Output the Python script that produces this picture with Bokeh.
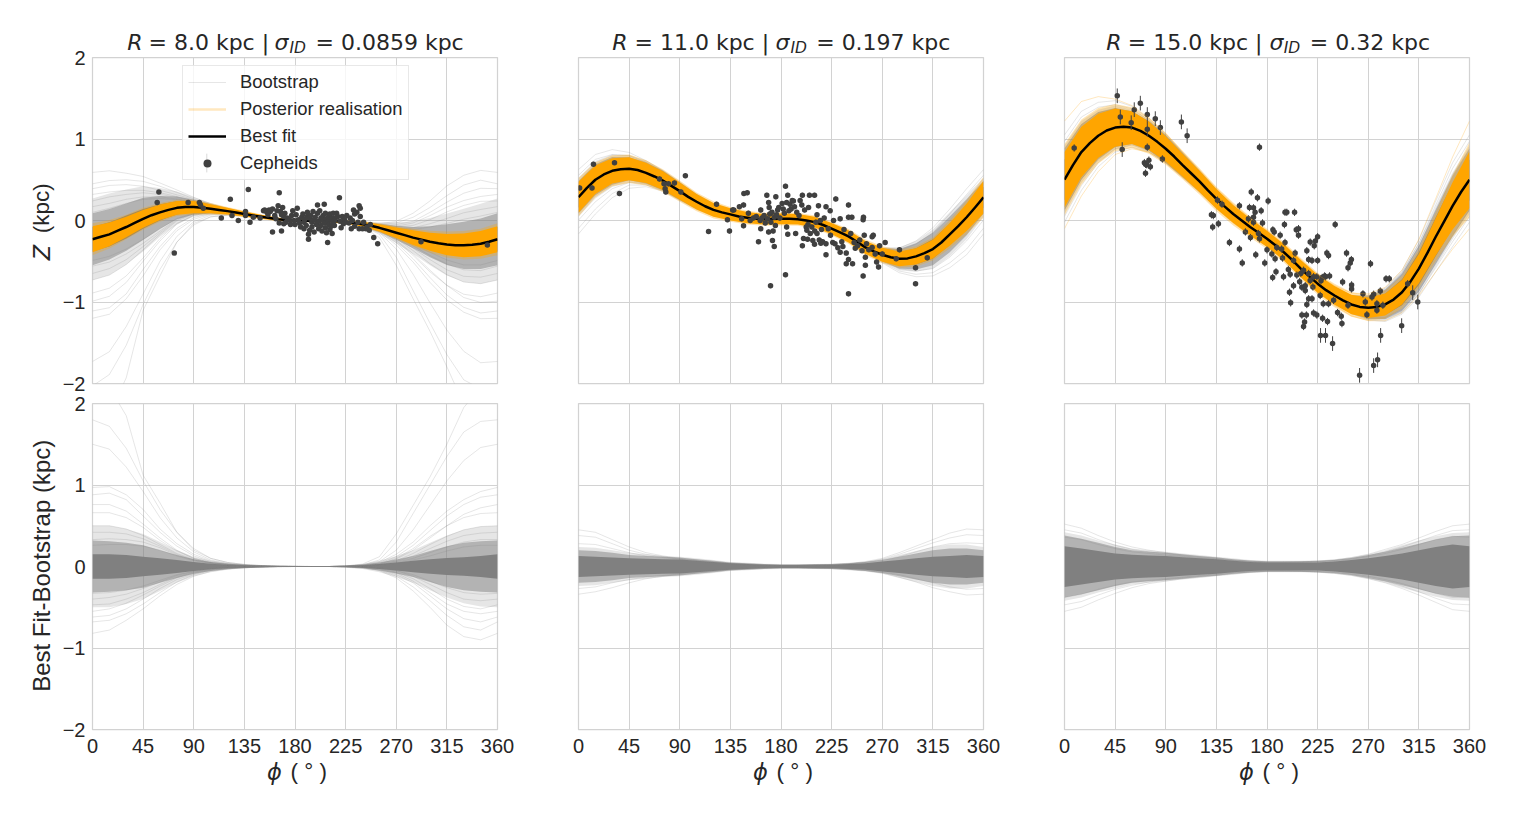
from math import pi

import numpy as np
from bokeh.embed import file_html
from bokeh.layouts import column, row
from bokeh.models import FixedTicker, Label, Legend, LegendItem, Range1d
from bokeh.plotting import figure
from bokeh.resources import INLINE

phi_fine = [0, 7.5, 15, 22.5, 30, 37.5, 45, 52.5, 60, 67.5, 75, 82.5, 90, 97.5, 105, 112.5, 120, 127.5, 135, 142.5, 150, 157.5, 165, 172.5, 180, 187.5, 195, 202.5, 210, 217.5, 225, 232.5, 240, 247.5, 255, 262.5, 270, 277.5, 285, 292.5, 300, 307.5, 315, 322.5, 330, 337.5, 345, 352.5, 360]
phi = [0, 15, 30, 45, 60, 75, 90, 105, 120, 135, 150, 165, 180, 195, 210, 225, 240, 255, 270, 285, 300, 315, 330, 345, 360]
phi_ticks = [0, 45, 90, 135, 180, 225, 270, 315, 360]
z_ticks = [-2, -1, 0, 1, 2]

# best fit
best_8 = [-.23, -.20, -.17, -.125, -.08, -.03, .02, .065, .10, .13, .155, .165, .165, .157, .145, .13, .115, .098, .08, .062, .045, .03, .015, .005, 0, -.003, -.005, -.005, -.005, -.01, -.02, -.03, -.045, -.065, -.09, -.12, -.15, -.18, -.21, -.235, -.26, -.28, -.295, -.303, -.305, -.298, -.285, -.26, -.23]
best_11 = [.285, .40, .50, .565, .61, .63, .635, .62, .585, .54, .49, .425, .36, .29, .23, .175, .13, .10, .075, .05, .035, .022, .015, .017, .02, .02, .015, 0, -.02, -.055, -.10, -.145, -.195, -.26, -.33, -.38, -.42, -.45, -.47, -.465, -.44, -.40, -.35, -.27, -.17, -.07, .04, .16, .285]
best_15 = [.50, .68, .84, .95, 1.04, 1.105, 1.14, 1.15, 1.14, 1.10, 1.04, .965, .88, .785, .68, .58, .48, .37, .265, .17, .08, 0, -.08, -.15, -.225, -.305, -.39, -.485, -.59, -.685, -.775, -.855, -.92, -.98, -1.03, -1.06, -1.07, -1.06, -1.03, -.97, -.88, -.75, -.59, -.40, -.20, -.01, .18, .35, .50]

# half widths of the orange band and its paler fringe
orange_8 = [.16, .145, .125, .11, .095, .085, .075, .055, .04, .03, .025, .018, .014, .014, .016, .02, .03, .045, .065, .09, .11, .13, .145, .155, .16]
fringe_8 = [.195, .175, .15, .135, .115, .1, .09, .07, .05, .04, .03, .023, .018, .018, .02, .026, .038, .055, .08, .11, .135, .16, .175, .185, .195]
orange_11 = [.19, .175, .155, .14, .125, .115, .105, .095, .085, .075, .07, .065, .065, .065, .065, .07, .075, .08, .085, .09, .1, .115, .14, .17, .2]
fringe_11 = [.235, .215, .19, .175, .155, .14, .13, .115, .105, .09, .085, .08, .08, .08, .08, .085, .09, .1, .105, .11, .125, .14, .175, .21, .25]
orange_15 = [.34, .31, .27, .235, .2, .175, .155, .14, .13, .12, .11, .105, .1, .1, .105, .11, .115, .12, .125, .135, .15, .18, .23, .29, .35]
fringe_15 = [.44, .4, .34, .29, .25, .22, .195, .175, .16, .15, .14, .13, .125, .125, .13, .135, .145, .15, .16, .175, .2, .235, .3, .38, .46]

# half widths of the solid, half dense and sparse parts of the bootstrap bundle
core_8 = [.15, .15, .14, .12, .10, .08, .055, .035, .022, .014, .008, .004, .003, .003, .004, .007, .016, .03, .05, .07, .09, .105, .115, .13, .15]
mid_8 = [.32, .31, .29, .26, .20, .14, .09, .055, .035, .02, .012, .006, .004, .004, .006, .012, .025, .05, .085, .13, .19, .25, .29, .31, .32]
outer_8 = [.5, .5, .46, .4, .3, .2, .12, .07, .04, .022, .012, .006, .004, .004, .007, .015, .03, .07, .13, .2, .29, .38, .45, .49, .5]
core_11 = [.13, .12, .11, .10, .095, .09, .085, .07, .055, .04, .03, .022, .018, .018, .02, .022, .03, .04, .06, .08, .10, .12, .13, .14, .13]
mid_11 = [.2, .19, .17, .14, .13, .12, .11, .09, .07, .05, .04, .03, .025, .025, .028, .03, .04, .055, .08, .12, .16, .2, .22, .22, .2]
outer_11 = [.24, .23, .2, .17, .15, .13, .12, .1, .08, .055, .045, .035, .03, .03, .03, .035, .045, .06, .09, .14, .19, .24, .27, .27, .24]
core_15 = [.25, .22, .19, .16, .145, .135, .13, .115, .10, .09, .07, .055, .05, .05, .05, .05, .06, .08, .10, .13, .16, .2, .24, .27, .25]
mid_15 = [.38, .34, .29, .24, .2, .18, .17, .15, .13, .115, .09, .075, .065, .065, .065, .07, .08, .105, .14, .18, .23, .28, .33, .37, .38]
outer_15 = [.42, .38, .32, .27, .22, .2, .18, .16, .14, .12, .1, .08, .07, .07, .07, .075, .09, .115, .15, .2, .26, .32, .37, .41, .42]

# the bootstrap curves that stand out of the bundle, as best fit minus bootstrap
resid_8 = [
    [2.25, 2.2, 1.85, 1.12, .78, .42, .2, .1, .05, .025, .012, .005, .002, 0, 0, .005, .03, .12, .4, .75, 1.1, 1.5, 1.95, 2.2, 2.25],
    [1.8, 1.72, 1.45, 1.05, .7, .42, .22, .1, .05, .025, .012, .005, .002, 0, 0, .004, .02, .08, .3, .65, 1.0, 1.35, 1.65, 1.78, 1.8],
    [1.5, 1.44, 1.22, .92, .6, .35, .18, .08, .04, .02, .01, .004, .002, 0, 0, .004, .02, .06, .2, .45, .75, 1.05, 1.3, 1.46, 1.5],
    [.97, .98, .88, .7, .46, .28, .15, .07, .035, .018, .008, .003, .001, 0, 0, .003, .014, .05, .15, .3, .5, .68, .82, .92, .97],
    [.88, .9, .82, .62, .42, .25, .13, .06, .03, .015, .007, .003, .001, 0, 0, .002, .01, .04, .12, .26, .44, .62, .76, .85, .88],
    [.76, .76, .68, .52, .35, .2, .1, .05, .025, .012, .005, .002, .001, 0, 0, .002, .01, .03, .09, .2, .35, .5, .64, .72, .76],
    [.66, .66, .6, .48, .32, .19, .1, .05, .025, .01, .005, .002, .001, 0, 0, .002, .008, .03, .1, .22, .37, .5, .6, .65, .66],
    [.5, .5, .46, .38, .27, .16, .09, .045, .02, .01, .004, .002, 0, 0, 0, .002, .008, .025, .07, .16, .27, .37, .45, .49, .5],
    [.42, .42, .4, .34, .25, .15, .08, .04, .02, .008, .004, .001, 0, 0, 0, .001, .006, .02, .06, .13, .22, .31, .38, .41, .42],
    [.33, .34, .33, .3, .23, .14, .08, .04, .018, .008, .003, .001, 0, 0, 0, .001, .005, .018, .05, .1, .17, .24, .3, .33, .33],
    [.26, .27, .27, .25, .2, .13, .07, .035, .015, .007, .003, .001, 0, 0, 0, .001, .004, .015, .04, .08, .13, .19, .24, .26, .26],
    [-.82, -.78, -.66, -.52, -.36, -.22, -.12, -.06, -.03, -.015, -.006, -.002, 0, 0, 0, -.002, -.012, -.05, -.14, -.3, -.5, -.72, -.86, -.9, -.82],
    [-.68, -.66, -.58, -.46, -.32, -.19, -.1, -.05, -.025, -.012, -.005, -.002, 0, 0, 0, -.002, -.01, -.04, -.12, -.25, -.42, -.6, -.74, -.78, -.68],
    [-.62, -.6, -.52, -.4, -.27, -.16, -.09, -.045, -.02, -.01, -.004, -.001, 0, 0, 0, -.001, -.008, -.03, -.1, -.2, -.36, -.52, -.64, -.68, -.62],
    [-.55, -.52, -.45, -.35, -.24, -.14, -.08, -.04, -.02, -.008, -.003, -.001, 0, 0, 0, -.001, -.006, -.025, -.08, -.18, -.32, -.46, -.55, -.58, -.55],
    [-.47, -.46, -.4, -.32, -.22, -.13, -.07, -.035, -.015, -.007, -.003, -.001, 0, 0, 0, -.001, -.005, -.02, -.07, -.15, -.27, -.4, -.49, -.52, -.47],
    [-.4, -.38, -.34, -.27, -.19, -.11, -.06, -.03, -.012, -.006, -.002, -.001, 0, 0, 0, -.001, -.004, -.018, -.05, -.12, -.22, -.32, -.4, -.42, -.4],
    [-.33, -.32, -.29, -.24, -.17, -.1, -.06, -.03, -.012, -.005, -.002, 0, 0, 0, 0, -.001, -.004, -.015, -.05, -.1, -.18, -.26, -.32, -.34, -.33],
]
resid_11 = [
    [.45, .42, .33, .24, .17, .13, .1, .08, .06, .04, .03, .02, .015, .015, .02, .025, .035, .06, .1, .17, .25, .33, .41, .46, .45],
    [.38, .36, .28, .2, .15, .12, .09, .07, .05, .035, .025, .02, .015, .015, .015, .02, .03, .05, .09, .15, .22, .29, .35, .39, .38],
    [.28, .27, .22, .17, .13, .11, .09, .07, .05, .03, .02, .015, .01, .01, .015, .02, .03, .05, .08, .12, .18, .24, .28, .29, .28],
    [-.34, -.31, -.26, -.2, -.15, -.12, -.1, -.08, -.06, -.04, -.03, -.02, -.015, -.015, -.02, -.025, -.035, -.05, -.08, -.13, -.19, -.26, -.31, -.35, -.34],
    [-.27, -.25, -.2, -.16, -.13, -.11, -.09, -.07, -.05, -.03, -.02, -.015, -.01, -.01, -.015, -.02, -.03, -.045, -.07, -.1, -.15, -.2, -.25, -.28, -.27],
]
resid_15 = [
    [.52, .47, .38, .3, .24, .2, .17, .14, .12, .1, .08, .065, .055, .055, .06, .065, .08, .11, .15, .21, .27, .35, .43, .5, .52],
    [.45, .41, .33, .26, .21, .18, .16, .13, .11, .095, .075, .06, .05, .05, .055, .06, .075, .1, .13, .18, .24, .31, .38, .44, .45],
    [.36, .33, .27, .22, .18, .16, .14, .12, .1, .085, .07, .055, .05, .05, .05, .055, .07, .09, .12, .16, .21, .27, .33, .37, .36],
    [-.55, -.5, -.41, -.33, -.26, -.21, -.18, -.15, -.13, -.11, -.09, -.07, -.06, -.06, -.06, -.07, -.085, -.11, -.15, -.2, -.27, -.35, -.44, -.53, -.55],
    [-.47, -.43, -.35, -.28, -.23, -.19, -.16, -.14, -.12, -.1, -.08, -.065, -.055, -.055, -.06, -.065, -.08, -.1, -.14, -.18, -.24, -.31, -.39, -.46, -.47],
    [-.38, -.34, -.28, -.23, -.19, -.17, -.15, -.13, -.11, -.09, -.07, -.06, -.05, -.05, -.055, -.06, -.07, -.09, -.12, -.16, -.21, -.27, -.33, -.38, -.38],
]

# posterior realisations that leave the band at R=15, offset from best fit
posterior_15 = [
    [.72, .62, .48, .35, .27, .22, .19, .16, .14, .13, .12, .11, .1, .1, .11, .11, .12, .14, .17, .21, .27, .36, .47, .6, .72],
    [-.6, -.54, -.44, -.33, -.26, -.2, -.17, -.15, -.13, -.12, -.11, -.1, -.09, -.09, -.1, -.1, -.12, -.14, -.16, -.2, -.25, -.33, -.43, -.53, -.6],
]

cepheids_8 = [(59, .35), (57.5, .22), (72.7, -.40), (85, .22), (95, .22), (96, .19), (98.5, .15), (114.5, .03), (122.5, .26), (124, .06), (129.6, 0), (136, .11), (136, .06), (138.5, .38), (140, -.02), (143, .04), (149, .03), (152, .12), (153, .13), (155, .10), (156, .07), (157, .13), (158, .11), (160, .14), (160, -.14), (162, .06), (163, .02), (164, .12), (165, .18), (166, .34), (166, -.03), (167, .11), (168, .07), (168, -.13), (169, .16), (170, .05), (170, -.04), (171, .09), (172, -.02), (173, .03), (175, .01), (176, -.05), (177, .06), (178, .12), (179, 0), (180, -.05), (181, .07), (182, .15), (183, .01), (184, -.03), (185, -.08), (186, .04), (187, .08), (188, -.02), (188, -.10), (189, .02), (190, -.06), (191, .05), (191, .10), (192, -.17), (192, -.23), (193, -.12), (193, .03), (194, .06), (195, -.02), (195, -.08), (196, .11), (197, -.14), (197, .01), (198, .04), (199, -.05), (200, .09), (200, .19), (201, -.01), (201, -.10), (202, .12), (203, .03), (203, -.06), (204, -.13), (205, .06), (205, 0), (206, -.03), (206, .20), (207, -.09), (207, .09), (208, .02), (208, -.15), (209, -.02), (209, -.27), (210, .05), (210, -.05), (211, -.11), (211, .08), (212, .01), (212, -.07), (213, .03), (213, -.16), (214, .09), (214, -.03), (215, 0), (215, -.06), (216, .03), (217, .09), (218, .05), (219.5, .28), (220, -.01), (221, -.09), (222, .05), (223, -.04), (224, .01), (225, -.02), (226, .06), (228, -.03), (229, .03), (230, -.10), (231, 0), (232, .13), (233, .08), (233, -.07), (235, .10), (236, -.02), (237, .18), (237, -.10), (238, .15), (238, .05), (240, -.10), (241, -.02), (243, -.10), (244, -.08), (246, -.12), (247, -.05), (250, -.21), (253.5, -.285), (292, -.26), (351, -.30)]

cepheids_11 = [(1, .40), (13.3, .69), (12, .40), (32, .71), (36.4, .33), (72, .51), (76, .45), (77, .39), (77.6, .35), (80, .45), (85.3, .46), (91, .35), (95, .55), (115.6, -.135), (122.7, .20), (132.4, .01), (134.2, -.13), (137, .13), (138, .13), (143, .17), (146.7, .19), (145, .02), (146.7, -.065), (147, .33), (150, .34), (151, .09), (152.6, 0), (155.5, .03), (160, -.26), (162, .13), (161.5, 0), (162, -.10), (167.4, .31), (169, .22), (169.5, .16), (170.7, -.80), (172.4, -.245), (174, -.32), (169, -.14), (173, -.13), (170, .08), (172, .10), (174, .04), (175.4, .29), (177, .13), (175, -.06), (182, .14), (184, .42), (184, -.665), (185, .22), (186, .31), (187, .12), (185, -.08), (186, -.17), (188, .20), (190, .245), (191, .24), (193, -.16), (197, .245), (199, .31), (198.5, .19), (200, -.22), (199, -.31), (202.4, -.08), (203, -.12), (203.6, -.23), (204.5, .16), (205.3, .31), (207.4, -.08), (208.3, -.245), (209.8, .31), (209.8, -.29), (212, -.16), (213.3, .18), (212, .07), (214, -.24), (215.4, -.28), (215, 0), (218.4, .03), (220, .17), (220, -.285), (220, -.42), (222, -.10), (223.7, .12), (226.7, 0), (228.7, .265), (228, -.285), (230.5, -.335), (232.6, .02), (232.6, -.39), (234, -.26), (240, .19), (240, .04), (238, -.40), (240, -.48), (238, -.53), (243.6, -.53), (240, -.90), (243, .04), (242, -.16), (246, -.34), (253, -.68), (253, .01), (253.3, .04), (254, -.18), (252, -.37), (255, -.45), (255, -.55), (256, -.285), (261, -.20), (262, -.18), (261, -.33), (263.7, -.41), (265, -.51), (266.7, -.57), (267.6, -.31), (270, -.41), (272.6, -.27), (282.4, -.47), (285.3, -.36), (299.6, -.58), (299.6, -.775), (310, -.457),
               (158, .05), (163, .03), (165, .06), (166, -.03), (168, .02), (171, -.02), (176, .07), (178, .16), (179, .03), (181, .21), (183, .09), (189, .14), (192, .17), (194, .10), (196, .06), (201, .13), (204, -.05), (206, -.16), (210, -.13), (211, -.02), (216, -.11), (217, -.26), (224, -.18), (226, -.27), (235, -.32), (236, -.11), (245, -.27), (248, -.31), (250, -.24), (258, -.36)]

# R=15 dots split by the size of their error bar
cepheids_15_far = [(46.9, 1.53), (49.6, 1.27), (62, 1.36), (67.4, 1.44), (51.3, .87), (59.3, 1.20), (73.6, 1.30), (80.7, 1.25), (85.2, 1.14), (73.6, 1.12), (103.9, 1.21), (109, 1.04), (262.3, -1.90), (274.8, -1.78), (278.3, -1.71), (281, -1.41), (299.7, -1.29), (314, -1.0), (238.3, -1.51), (227.6, -1.41), (232, -1.41), (309.5, -.885)]
cepheids_15 = [(8.6, .89), (73.6, .90), (71, .71), (72, .69), (73, .685), (72, .58), (75, .74), (76.3, .66), (87, .755), (173.3, .90), (166, .35), (171.5, .28), (181, .24), (136, .25), (140, .20), (155.5, .18), (164.4, .16), (168, .155), (169.4, .10), (174.8, .12), (130.6, .07), (132.3, .06), (136.8, -.04), (131.7, -.08), (146.6, -.27), (155.5, -.35), (158, -.52), (160.8, -.14), (165.3, -.21), (163.5, .02), (168, .04), (168, -.02), (172.4, -.16), (173.3, -.225), (176, -.03), (170, -.42), (178, -.52), (180, -.36), (185.2, -.115), (186.4, -.14), (184.3, -.41), (185, -.70), (188, -.63), (187.2, -.47), (196, .10), (197.6, .10), (204.5, .10), (195.5, -.05), (191.7, -.18), (196, -.27), (188.7, -.33), (193, -.35), (193.8, -.46), (194.7, -.69), (199, -.60), (200.6, -.66), (200, -.88), (201, -1.01), (203.6, -.80), (206, -.115), (208, -.10), (208, -.18), (205, -.40), (203.6, -.49), (206.5, -.67), (210, -.65), (211, -1.16), (215, -1.16), (213.4, -1.245), (212.5, -1.30), (215.4, -.37), (218.4, -.265), (222, -.31), (225, -.20), (223, -.25), (217, -.48), (220, -.49), (225, -.49), (211, -.82), (214, -.86), (217, -.96), (215.4, -1.03), (221.4, -1.135), (224.3, -1.16), (229.4, -1.20), (233.8, -1.24), (220, -.96), (227.3, -.92), (230, -1.02), (234.7, -1.02), (240.6, -.05), (233.2, -.40), (234.7, -.43), (231.2, -.68), (235.6, -.68), (239.2, -.98), (242.7, -1.13), (246, -1.175), (246.6, -1.265), (247.2, -.755), (250.7, -.40), (255, -.48), (254, -.52), (252, -.58), (255.2, -.79), (255.2, -.84), (252, -1.04), (272, -.53), (265.3, -.90), (268.8, -1.155), (267.4, -1.0), (273.3, -.94), (274.8, -.905), (277.7, -1.02), (277.7, -1.10), (283, -1.04), (280.7, -.865), (285.8, -.715), (288.7, -.715), (305, -.775), (212.5, -.61), (217, -.65), (221.4, -.69), (218.4, -.735), (214, -.80), (220.8, -.815), (224.3, -.69), (229, -.70), (232, -.69), (228, -.74), (209, -.75)]

TEXT = "#262626"
GRID = "#d2d2d2"
GREY = "#808080"
DOT = "#404040"
ORANGE = "#ffa500"


def base_figure(left, top, bottom, show_y, show_x):
    p = figure(frame_width=405, frame_height=326, output_backend="svg", toolbar_location=None,
               x_range=Range1d(0, 360), y_range=Range1d(-2, 2),
               min_border_left=left, min_border_right=40, min_border_top=top, min_border_bottom=bottom)
    p.xgrid.ticker = FixedTicker(ticks=phi_ticks)
    p.ygrid.ticker = FixedTicker(ticks=z_ticks)
    p.xgrid.grid_line_color = GRID
    p.ygrid.grid_line_color = GRID
    p.outline_line_color = GRID
    p.outline_line_width = 1.25
    for ax, ticks, visible in ((p.xaxis[0], phi_ticks, show_x), (p.yaxis[0], z_ticks, show_y)):
        ax.visible = visible
        ax.ticker = FixedTicker(ticks=ticks)
        ax.axis_line_color = None
        ax.major_tick_line_color = None
        ax.minor_tick_line_color = None
        ax.major_label_text_font = "Liberation Sans"
        ax.major_label_text_font_size = "20px"
        ax.major_label_text_color = TEXT
    p.xaxis[0].major_label_standoff = 3
    p.yaxis[0].major_label_standoff = 1
    p.yaxis[0].major_label_overrides = {t: str(t).replace("-", "\u2212") for t in z_ticks}
    return p


def bundle(p, base, core, mid, outer, resid, sign):
    for band, alpha in ((outer, 0.2), (mid, 0.5), (core, 1.0)):
        p.varea(phi, base - np.array(band), base + np.array(band), fill_color=GREY, fill_alpha=alpha)
    ys = [list(base + sign * np.array(r)) for r in resid]
    return p.multi_line([phi for _ in resid], ys, line_color=GREY, line_alpha=0.2, line_width=1)


def draw_dots(p, cepheids, err):
    xs = [c[0] for c in cepheids]
    ys = [c[1] for c in cepheids]
    p.segment(xs, [v - err for v in ys], xs, [v + err for v in ys], line_color=DOT, line_width=1)
    return p.scatter(xs, ys, size=5.5, fill_color=DOT, line_color=DOT, line_width=0)


def top_panel(left, best, orange, fringe, core, mid, outer, resid, cepheids, err):
    p = base_figure(left, 57, 10, left == 92, False)
    base = np.array(best[::2])
    boot = bundle(p, base, core, mid, outer, resid, -1)
    # lies under the band, it gives the legend its pale key
    post = p.line(phi_fine, best, line_color=ORANGE, line_alpha=0.25, line_width=2.5)
    p.varea(phi, base - np.array(fringe), base + np.array(fringe), fill_color=ORANGE, fill_alpha=0.3)
    p.varea(phi, base - np.array(orange), base + np.array(orange), fill_color=ORANGE)
    line = p.line(phi_fine, best, line_color="black", line_width=2.5, line_join="round")
    dots = draw_dots(p, cepheids, err)
    return p, boot, post, line, dots


def bottom_panel(left, core, mid, outer, resid):
    p = base_figure(left, 10, 70, left == 92, True)
    bundle(p, np.zeros(len(phi)), core, mid, outer, resid, 1)
    return p


p1, boot_key, post_key, best_key, dots_key = top_panel(92, best_8, orange_8, fringe_8, core_8, mid_8, outer_8, resid_8, cepheids_8, 0.02)
p2, _, _, _, _ = top_panel(41, best_11, orange_11, fringe_11, core_11, mid_11, outer_11, resid_11, cepheids_11, 0.03)
p3, _, _, _, _ = top_panel(41, best_15, orange_15, fringe_15, core_15, mid_15, outer_15, resid_15, cepheids_15, 0.045)
draw_dots(p3, cepheids_15_far, 0.09)
p3.multi_line([phi for _ in posterior_15], [list(np.array(best_15[::2]) + np.array(d)) for d in posterior_15],
              line_color=ORANGE, line_alpha=0.25, line_width=1)

legend = Legend(items=[LegendItem(label="Bootstrap", renderers=[boot_key]),
                       LegendItem(label="Posterior realisation", renderers=[post_key]),
                       LegendItem(label="Best fit", renderers=[best_key]),
                       LegendItem(label="Cepheids", renderers=[dots_key])],
                location=(90, 203), margin=0, padding=5, spacing=5, glyph_width=38, glyph_height=20,
                label_height=20, label_standoff=14, label_text_font="Liberation Sans",
                label_text_font_size="18.4px", label_text_color=TEXT, border_line_color=GRID,
                border_line_width=1, background_fill_color="white", background_fill_alpha=0.8)
p1.add_layout(legend)
p1.segment([101.6], [0.59], [101.6], [0.82], line_color=DOT, line_width=1, level="overlay")

p4 = bottom_panel(92, core_8, mid_8, outer_8, resid_8)
p5 = bottom_panel(41, core_11, mid_11, outer_11, resid_11)
p6 = bottom_panel(41, core_15, mid_15, outer_15, resid_15)

# a Label gets cut at its figure's frame, so titles and axis labels sit on a see-through page sized figure
page = figure(width=1500, height=800, output_backend="svg", toolbar_location=None, x_range=Range1d(0, 1500),
              y_range=Range1d(800, 0), x_axis_location=None, y_axis_location=None, min_border=0,
              background_fill_color=None, border_fill_color=None, outline_line_color=None,
              styles={"position": "absolute", "top": "0px", "left": "0px", "pointer-events": "none"})
page.grid.visible = False


def put_text(text, x, y, size="22px", style="normal", font="DejaVu Sans", angle=0, align="left"):
    page.add_layout(Label(x=x, y=y, text=text, text_font=font, text_font_size=size, text_font_style=style,
                          text_color=TEXT, angle=angle, text_align=align, text_baseline="alphabetic"))


def draw_title(value, sigma, xs):
    put_text("R", xs[0], 42, style="italic")
    put_text("= %s kpc |" % value, xs[1], 42)
    put_text("\u03c3", xs[2], 42, style="italic")
    put_text("ID", xs[3], 47.5, size="15.5px", style="italic")
    put_text("= %s kpc" % sigma, xs[4], 42)


draw_title("8.0", "0.0859", (126.7, 148, 274, 289, 315))
draw_title("11.0", "0.197", (611.7, 634, 775, 790, 815.7))
draw_title("15.0", "0.32", (1105.7, 1127.3, 1269, 1283.3, 1309.3))
for left in (92, 578, 1064):
    put_text("\u03d5", left + 174.5, 772, size="22.5px", style="italic")
    put_text("( \u00b0 )", left + 198, 772, size="22.5px", font="Liberation Sans")
put_text("Z", 41, 260, size="22.5px", style="italic", angle=pi / 2)
put_text("(kpc)", 41, 233, size="22.5px", angle=pi / 2, font="Liberation Sans")
put_text("Best Fit-Bootstrap (kpc)", 41, 566, angle=pi / 2, font="Liberation Sans", size="24px", align="center")

layout = column(row(p1, p2, p3), row(p4, p5, p6), page)
open("out.html", "w").write(file_html(layout, INLINE))
